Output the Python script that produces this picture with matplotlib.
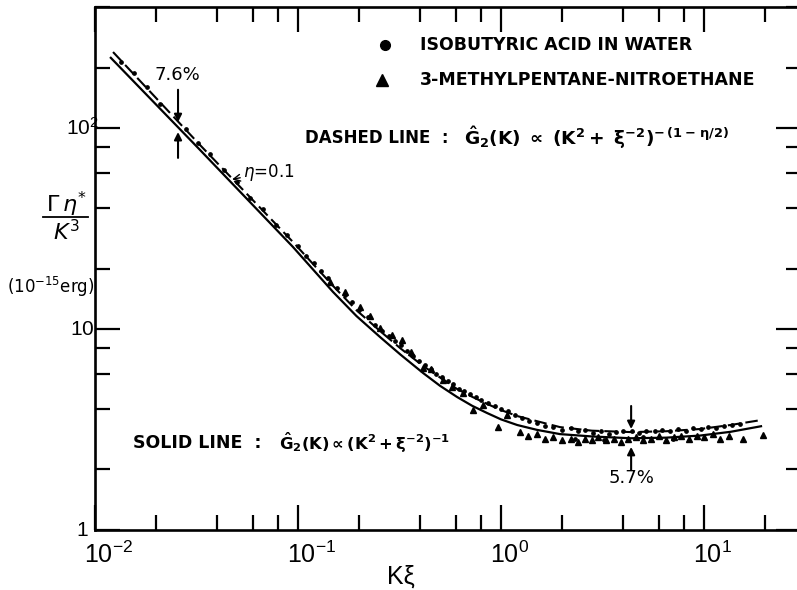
import matplotlib
matplotlib.use("Agg")
import matplotlib.pyplot as plt
from matplotlib.ticker import FixedLocator, LogLocator, NullFormatter
from matplotlib.transforms import blended_transform_factory, offset_copy

plt.rcParams['font.family'] = ['DejaVu Sans']
plt.rcParams['mathtext.fontset'] = 'dejavusans'
plt.rcParams['mathtext.rm'] = 'Liberation Sans'
plt.rcParams['mathtext.it'] = 'Liberation Sans:italic'
plt.rcParams['mathtext.bf'] = 'Liberation Sans:bold'

# ---------------- data ----------------
# Isobutyric acid in water (dots)
iba_kxi = [0.0135, 0.0155, 0.018, 0.021, 0.028, 0.032, 0.037, 0.043, 0.05,
           0.058, 0.067, 0.078, 0.088, 0.1, 0.11, 0.12, 0.13, 0.14, 0.155,
           0.17, 0.185, 0.2, 0.22, 0.24, 0.26, 0.28, 0.30, 0.32, 0.345,
           0.37, 0.395, 0.42, 0.45, 0.48, 0.51, 0.545, 0.58, 0.62, 0.66,
           0.70, 0.75, 0.80, 0.86, 0.93, 1.0, 1.08, 1.17, 1.27, 1.38,
           1.5, 1.65, 1.8, 2.0, 2.2, 2.3, 2.4, 2.6, 2.85, 3.1,
           3.2, 3.4, 3.7, 4.0, 4.4, 4.8, 5.0, 5.2, 5.7, 6.2,
           6.8, 7.0, 7.4, 8.1, 8.8, 9.6, 10.5, 11.5, 12.5, 13.7, 15.0]
iba_gamma = [212, 188, 160, 131, 99, 84, 74, 62, 54,
             45, 39.5, 33, 29.5, 25.8, 23.2, 21.2, 19.4, 17.9, 16.0,
             14.8, 13.6, 12.5, 11.5, 10.5, 9.8, 9.25, 8.7, 8.3, 7.8,
             7.35, 6.95, 6.6, 6.3, 6.0, 5.8, 5.5, 5.3, 5.05, 4.9,
             4.75, 4.6, 4.45, 4.3, 4.15, 4.0, 3.9, 3.75, 3.6, 3.5,
             3.4, 3.3, 3.25, 3.15, 3.2, 2.85, 3.1, 3.15, 3.05, 3.12,
             2.8, 3.0, 3.08, 3.1, 3.12, 3.05, 2.9, 3.12, 3.1, 3.15,
             3.12, 2.85, 3.18, 3.12, 3.2, 3.18, 3.25, 3.22, 3.3, 3.32, 3.35]

# 3-methylpentane - nitroethane (triangles)
mpn_kxi = [0.144, 0.170, 0.202, 0.225, 0.254, 0.29, 0.325, 0.36, 0.413, 0.45,
           0.52, 0.574, 0.65, 0.728, 0.815, 0.966, 1.07, 1.24, 1.35, 1.5,
           1.65, 1.8, 2.0, 2.2, 2.4, 2.6, 2.8, 3.0, 3.3, 3.6,
           3.9, 4.2, 4.6, 5.0, 5.5, 6.0, 6.5, 7.1, 7.7, 8.4,
           9.2, 10.0, 11.0, 12.0, 13.2, 15.5, 19.5]
mpn_gamma = [17.1, 15.3, 12.9, 11.6, 10.1, 9.3, 8.8, 7.7, 6.4, 6.3,
             5.6, 5.15, 4.8, 3.95, 4.19, 3.25, 3.73, 3.07, 2.95, 3.0,
             2.85, 2.9, 2.8, 2.85, 2.75, 2.85, 2.8, 2.9, 2.8, 2.85,
             2.75, 2.85, 2.9, 2.8, 2.85, 2.95, 2.8, 2.9, 2.95, 2.85,
             2.95, 2.9, 3.0, 2.85, 2.95, 2.85, 2.97]

# Theory curves
solid_kxi = [0.01186, 0.0329, 0.0944, 0.1486, 0.194, 0.2535, 0.32, 0.413, 0.5,
             0.607, 0.72, 0.853, 1.0, 1.2, 1.5, 1.95, 2.8, 4.37, 6.5, 9.55,
             13.5, 19.3]
solid_gamma = [225.5, 77.8, 25.6, 15.3, 11.6, 9.12, 7.45, 6.04, 5.22,
               4.59, 4.15, 3.82, 3.55, 3.33, 3.15, 3.0, 2.92, 2.86, 2.88, 2.95,
               3.08, 3.29]
dashed_kxi = [0.01227, 0.0329, 0.0944, 0.1486, 0.194, 0.2535, 0.32, 0.413, 0.5,
              0.607, 0.72, 0.853, 1.0, 1.2, 1.5, 1.95, 2.8, 4.37, 6.5, 9.55,
              13.5, 19.3]
dashed_gamma = [238.8, 82.3, 27.1, 16.4, 12.4, 9.77, 8.0, 6.55, 5.74,
                5.03, 4.6, 4.24, 3.95, 3.69, 3.48, 3.25, 3.12, 3.07, 3.1, 3.18,
                3.33, 3.53]

xtick_vals = [0.01, 0.1, 1, 10]
xtick_labels = [r'$\mathrm{10^{-2}}$', r'$\mathrm{10^{-1}}$', r'$\mathrm{10^{0}}$', r'$\mathrm{10^{1}}$']
ytick_vals = [1, 10, 100]
ytick_labels = [r'$\mathrm{1}$', r'$\mathrm{10}$', r'$\mathrm{10^{2}}$']

# ---------------- figure ----------------
W, H = 797, 590
fig = plt.figure(figsize=(W / 100, H / 100), dpi=100)


def fx(px):
    return px / W


def fy(py):
    return 1 - py / H


ax = fig.add_axes([fx(95), fy(530), (801 - 95) / W, (530 - 7) / H])
ax.set_xscale('log')
ax.set_yscale('log')
ax.set_xlim(0.01, 30)
ax.set_ylim(1, 400)

for sp in ax.spines.values():
    sp.set_linewidth(1.9)

ax.xaxis.set_major_locator(FixedLocator(xtick_vals))
ax.xaxis.set_minor_locator(LogLocator(base=10, subs=(2, 4, 6, 8), numticks=20))
ax.yaxis.set_major_locator(FixedLocator(ytick_vals))
ax.yaxis.set_minor_locator(LogLocator(base=10, subs=(2, 4, 6, 8), numticks=20))
ax.xaxis.set_major_formatter(NullFormatter())
ax.xaxis.set_minor_formatter(NullFormatter())
ax.yaxis.set_major_formatter(NullFormatter())
ax.yaxis.set_minor_formatter(NullFormatter())
ax.tick_params(which='both', direction='in', top=True, right=True, width=1.6, color='black')
ax.tick_params(which='major', length=18)
ax.tick_params(which='minor', length=11)

# tick labels drawn manually
bx = blended_transform_factory(ax.transData, ax.transAxes)
for v, lab in zip(xtick_vals, xtick_labels):
    tr = offset_copy(bx, fig=fig, x=-11, y=-12, units='dots')
    ax.text(v, 0, lab, transform=tr, ha='left', va='top', fontsize=18,
            math_fontfamily='custom', clip_on=False)
by = blended_transform_factory(fig.transFigure, ax.transData)
for v, lab in zip(ytick_vals, ytick_labels):
    ax.text(fx(82), v, lab, transform=by, ha='center', va='center', fontsize=15,
            math_fontfamily='custom', clip_on=False)

# curves
ax.plot(solid_kxi, solid_gamma, color='black', lw=1.6, solid_capstyle='butt')
ax.plot(dashed_kxi, dashed_gamma, color='black', lw=1.5, linestyle=(0, (6, 2.5)))

# data
ax.plot(iba_kxi, iba_gamma, 'o', color='black', ms=2.4, ls='none')
ax.plot(mpn_kxi, mpn_gamma, '^', color='black', ms=4.5, ls='none')

# percentage arrows
ap = dict(arrowstyle='-|>', lw=1.5, color='black', mutation_scale=11, shrinkA=0, shrinkB=0)
ax.annotate('', xy=(0.02564, 107), xytext=(0.02564, 155), arrowprops=ap)
ax.annotate('', xy=(0.02564, 95.5), xytext=(0.02564, 71), arrowprops=ap)
ax.annotate('', xy=(4.37, 3.18), xytext=(4.37, 4.14), arrowprops=ap)
ax.annotate('', xy=(4.37, 2.59), xytext=(4.37, 1.99), arrowprops=ap)
fig.text(fx(177), fy(75), '7.6%', ha='center', va='center', fontsize=13)
fig.text(fx(632), fy(478), '5.7%', ha='center', va='center', fontsize=13)

# eta annotation
ax.annotate(r'$\eta$=0.1', xy=(0.0473, 55.5), xytext=(fx(243), fy(172)),
            textcoords='figure fraction', ha='left', va='center', fontsize=12,
            arrowprops=dict(arrowstyle='->', lw=1.0, color='black',
                            shrinkA=0, shrinkB=0))

# legend
fig.add_artist(plt.Line2D([fx(385)], [fy(45)], marker='o', ms=7, color='black',
                          ls='none', transform=fig.transFigure))
fig.add_artist(plt.Line2D([fx(382)], [fy(80)], marker='^', ms=8.5, color='black',
                          ls='none', transform=fig.transFigure))
fig.text(fx(420), fy(45), 'ISOBUTYRIC ACID IN WATER', ha='left', va='center',
         fontsize=12.5, fontweight='bold')
fig.text(fx(420), fy(80), '3-METHYLPENTANE-NITROETHANE', ha='left', va='center',
         fontsize=12.5, fontweight='bold')

fig.text(fx(305), fy(138), 'DASHED LINE  :', ha='left', va='center',
         fontsize=12, fontweight='bold')
fig.text(fx(464), fy(138),
         r'$\mathbf{\hat{G}_2(K)\ \propto\ (K^2 +\ \xi^{-2})^{-\,(1-\,\eta/2)}}$',
         ha='left', va='center', fontsize=13.3)
fig.text(fx(133), fy(443), 'SOLID LINE  :', ha='left', va='center',
         fontsize=12.5, fontweight='bold')
fig.text(fx(279), fy(443),
         r'$\mathbf{\hat{G}_2(K)\propto(K^2+\xi^{-2})^{-1}}$',
         ha='left', va='center', fontsize=11.8)

# y label (fraction)
fig.text(fx(66), fy(204), r'$\Gamma\,\eta^{*}$', ha='center', va='center', fontsize=16)
fig.add_artist(plt.Line2D([fx(43), fx(88)], [fy(217), fy(217)], color='black', lw=1.3,
                          transform=fig.transFigure))
fig.text(fx(66), fy(232), r'$K^{3}$', ha='center', va='center', fontsize=16)
fig.text(fx(51), fy(287), r'(10$^{-15}$erg)', ha='center', va='center', fontsize=12)

# x label
fig.text(fx(401), fy(577), 'Kξ', ha='center', va='center', fontsize=18,
         family=['Liberation Sans', 'DejaVu Sans'])

fig.savefig('out.png', dpi=100)
